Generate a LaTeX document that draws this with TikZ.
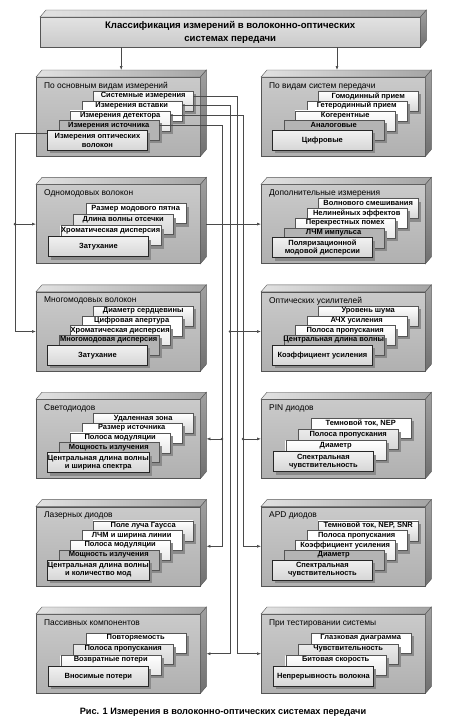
\documentclass[tikz,border=0pt]{standalone}
\usepackage{fontspec}
\setmainfont{Liberation Sans}
\usetikzlibrary{arrows.meta,positioning,calc,shadows}
\definecolor{Wire}{HTML}{4A4A4A}
\definecolor{Edge}{HTML}{555555}
\definecolor{FaceTop}{HTML}{CACACA}
\definecolor{FaceBot}{HTML}{B0B0B0}
\definecolor{LidLight}{HTML}{E2E2E2}
\definecolor{LidDark}{HTML}{A4A4A4}
\definecolor{SideLight}{HTML}{A0A0A0}
\definecolor{SideDark}{HTML}{707070}
\definecolor{Slab}{HTML}{8A8A8A}
\definecolor{CardGrey}{HTML}{B4B4B4}
\definecolor{CardPale}{HTML}{D6D6D6}
\newcommand{\cardfont}{\fontsize{7.5}{8.2}\selectfont\bfseries}
\newcommand{\titlefont}{\fontsize{8.4}{9.6}\selectfont}
\tikzset{
  panelfront/.style={draw=Edge,line width=.4pt,top color=FaceTop,bottom color=FaceBot,minimum width=164pt,minimum height=79pt,anchor=north west,inner sep=0pt},
  headbox/.style={draw=Edge,line width=.4pt,top color=LidLight,bottom color=FaceTop,minimum width=380pt,minimum height=30pt,anchor=north west,align=center,font=\fontsize{9.6}{12.5}\selectfont\bfseries},
  paneltitle/.style={anchor=west,inner sep=0pt,font=\titlefont},
  card/.style={anchor=north west,minimum width=100pt,minimum height=20pt,inner xsep=.5pt,inner ysep=1pt,draw=Edge,line width=.4pt,align=center,font=\cardfont,
    general shadow={shadow xshift=3pt,shadow yshift=-3pt,fill=Slab,draw=none}},
  cardlab/.style={inner sep=0pt,font=\cardfont},
  card5-1/.style={top color=white,bottom color=CardPale},
  card5-2/.style={fill=white},
  card5-3/.style={top color=white,bottom color=CardPale!55},
  card5-4/.style={fill=CardGrey},
  card4-1/.style={fill=white},
  card4-2/.style={top color=CardPale!50,bottom color=CardPale},
  card4-3/.style={top color=white,bottom color=CardPale!55},
  frontcard/.style={top color=CardPale!35,bottom color=CardPale,draw=black!85,line width=.8pt},
  link/.style={draw=Wire,line width=.6pt},
  tip/.style={-{Latex[length=4pt,width=3pt]}},
  caption/.style={font=\fontsize{9.2}{11}\selectfont\bfseries}
}
\newcommand{\boxfaces}[1]{%
  \shade[draw=Edge,line width=.4pt,left color=LidLight,right color=LidDark]
    (#1.north west) -- ([shift={(6,-7)}]#1.north west) -- ([shift={(6,-7)}]#1.north east) -- (#1.north east) -- cycle;
  \shade[draw=Edge,line width=.4pt,top color=SideLight,bottom color=SideDark]
    (#1.north east) -- ([shift={(6,-7)}]#1.north east) -- ([shift={(6,-7)}]#1.south east) -- (#1.south east) -- cycle;
  \coordinate (#1-in) at ([xshift=6pt]#1.east);
}
\newcommand{\boxpanel}[4]{%
  \node[panelfront] (#1) at (#2,#3) {};
  \boxfaces{#1}
  \node[paneltitle] at ([shift={(8,9)}]#1.north west) {#4};
}
\newcommand{\cardstack}[3]{%
  \foreach \txt [count=\i] in {#3}{
    \pgfmathsetmacro{\k}{#2-\i}
    \ifnum#2=5
      \pgfmathsetmacro{\cx}{11+11.5*\k}\pgfmathsetmacro{\cy}{53-9.75*\k}
    \else
      \pgfmathsetmacro{\cx}{12+12.5*\k}\pgfmathsetmacro{\cy}{52-11*\k}
    \fi
    \ifnum\i=#2
      \node[card,frontcard] (#1-\i) at ([shift={(\cx,\cy)}]#1.north west) {\txt};
    \else
      \node[card,card#2-\i] (#1-\i) at ([shift={(\cx,\cy)}]#1.north west) {};
      \node[cardlab] at ([shift={(0,5)}]#1-\i.north) {\txt};
    \fi
  }
}

\begin{document}
\begin{tikzpicture}[x=1pt,y=-1pt]
  \fill[white] (0,0) rectangle (450,728);
  \useasboundingbox (0,0) rectangle (450,728);

  % heading
  \node[headbox] (head) at (40,17) {Классификация  измерений в волоконно-оптических\\системах передачи};
  \boxfaces{head}

  % left column
  \boxpanel{pL1}{36}{77}{По основным видам измерений}
  \cardstack{pL1}{5}{Системные измерения,Измерения вставки,Измерения детектора,Измерения источника,{Измерения оптических\\волокон}}
  \boxpanel{pL2}{36}{184.4}{Одномодовых волокон}
  \cardstack{pL2}{4}{Размер модового пятна,Длина волны отсечки,Хроматическая дисперсия,Затухание}
  \boxpanel{pL3}{36}{291.8}{Многомодовых волокон}
  \cardstack{pL3}{5}{Диаметр сердцевины,Цифровая апертура,Хроматическая дисперсия,Многомодовая дисперсия,Затухание}
  \boxpanel{pL4}{36}{399.2}{Светодиодов}
  \cardstack{pL4}{5}{Удаленная зона,Размер источника,Полоса модуляции,Мощность излучения,{Центральная длина волны\\и ширина спектра}}
  \boxpanel{pL5}{36}{506.6}{Лазерных диодов}
  \cardstack{pL5}{5}{Поле луча Гаусса,ЛЧМ и ширина линии,Полоса модуляции,Мощность излучения,{Центральная длина волны\\и количество мод}}
  \boxpanel{pL6}{36}{614}{Пассивных компонентов}
  \cardstack{pL6}{4}{Повторяемость,Полоса пропускания,Возвратные потери,Вносимые потери}

  % right column
  \boxpanel{pR1}{261}{77}{По видам систем передачи}
  \cardstack{pR1}{5}{Гомодинный прием,Гетеродинный прием,Когерентные,Аналоговые,Цифровые}
  \boxpanel{pR2}{261}{184.4}{Дополнительные измерения}
  \cardstack{pR2}{5}{Волнового смешивания,Нелинейных эффектов,Перекрестных помех,ЛЧМ импульса,{Поляризационной\\модовой дисперсии}}
  \boxpanel{pR3}{261}{291.8}{Оптических усилителей}
  \cardstack{pR3}{5}{Уровень шума,АЧХ усиления,Полоса пропускания,Центральная длина волны,Коэффициент усиления}
  \boxpanel{pR4}{261}{399.2}{PIN диодов}
  \cardstack{pR4}{4}{{Темновой ток, NEP},Полоса пропускания,Диаметр,{Спектральная\\чувствительность}}
  \boxpanel{pR5}{261}{506.6}{APD диодов}
  \cardstack{pR5}{5}{{Темновой ток, NEP, SNR},Полоса пропускания,Коэффициент усиления,Диаметр,{Спектральная\\чувствительность}}
  \boxpanel{pR6}{261}{614}{При тестировании системы}
  \cardstack{pR6}{4}{Глазковая диаграмма,Чувствительность,Битовая скорость,Непрерывность волокна}

  % heading to first row
  \coordinate (aL) at ([shift={(3,-7)}]pL1.north);
  \coordinate (aR) at (337,70);
  \draw[link,tip] (head.south -| aL) -- (aL);
  \draw[link,tip] (head.south -| aR) -- (aR);

  % fibre measurements
  \coordinate (jFib) at (15,0 |- pL2.west);
  \draw[link,tip] ([yshift=-3pt]pL1-5.north west) -| (15,0 |- pL3.west) -- (pL3.west);
  \draw[link,tip] (jFib) -- (pL2.west);
  % single-mode to extra measurements
  \draw[link,tip] (pL2-in) -- (pR2.west);
  % source measurements
  \coordinate (jLed) at (222,0 |- pL4-in);
  \draw[link,tip] ([yshift=-5pt]pL1-4.north east) -| (222,0 |- pL5-in) -- (pL5-in);
  \draw[link,tip] (jLed) -- (pL4-in);
  % detector measurements
  \coordinate (jPin) at (243,0 |- pR4.west);
  \draw[link,tip] ([yshift=-5pt]pL1-3.north east) -| (243,0 |- pR5.west) -- (pR5.west);
  \draw[link,tip] (jPin) -- (pR4.west);
  % insertion measurements
  \coordinate (jAmp) at (230,0 |- pR3.west);
  \draw[link,tip] ([yshift=-5pt]pL1-2.north east) -| (230,0 |- pL6-in) -- (pL6-in);
  \draw[link,tip] (jAmp) -- (pR3.west);
  % system measurements
  \draw[link,tip] ([yshift=-5pt]pL1-1.north east) -| (237,0 |- pR6.west) -- (pR6.west);
  \foreach \j in {jFib,jLed,jPin,jAmp} \fill[Wire] (\j) circle (1.4pt);

  \node[caption] (cap) at (223,712) {Рис. 1 Измерения в волоконно-оптических системах передачи};
\end{tikzpicture}
\end{document}
